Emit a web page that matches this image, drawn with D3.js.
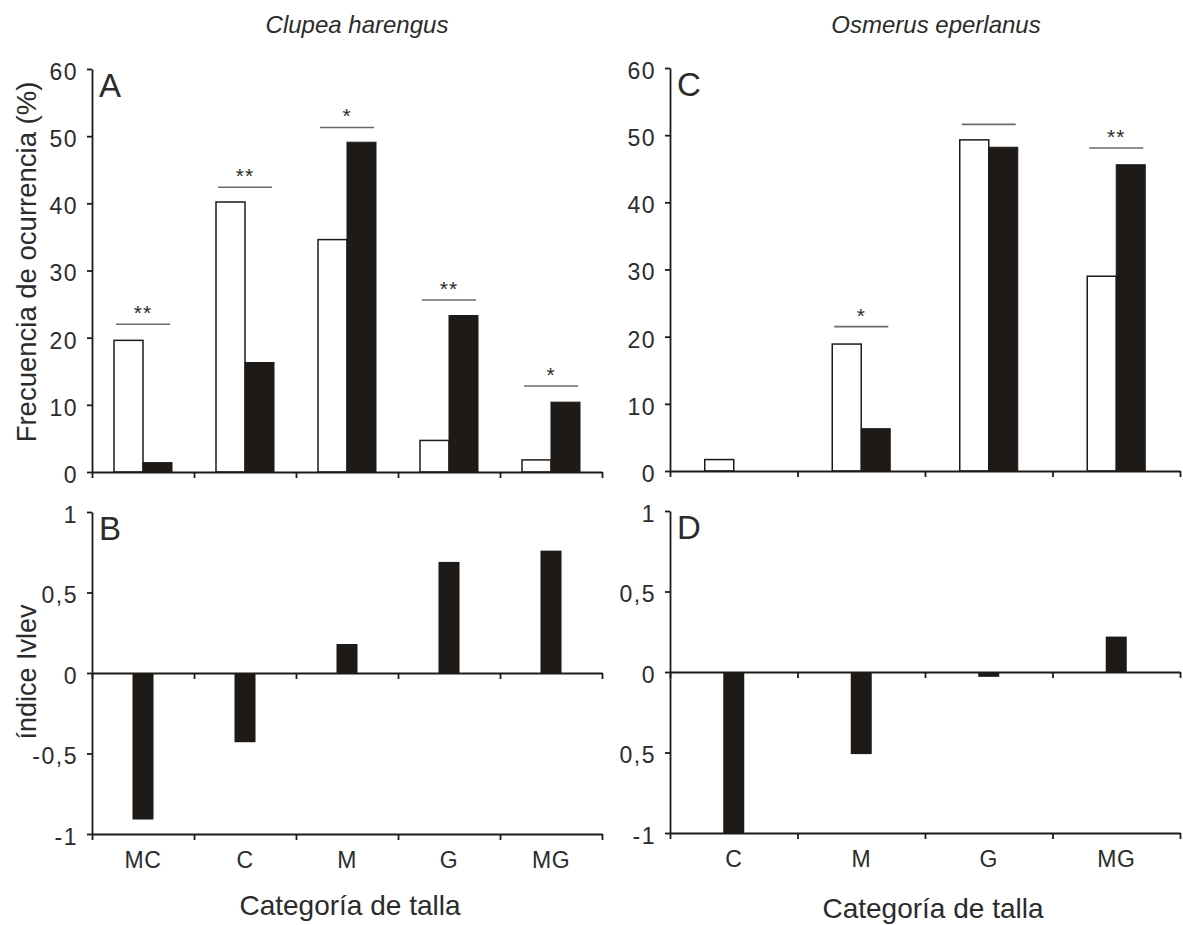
<!DOCTYPE html>
<html>
<head>
<meta charset="utf-8">
<script src="https://cdn.jsdelivr.net/npm/d3@7"></script>
<style>
  body { margin: 0; background: #fff; }
  text { font-family: "Liberation Sans", Arial, sans-serif; fill: #2b2b2b; }
</style>
</head>
<body>
<script>
// Data
var catsLeft = ["MC", "C", "M", "G", "MG"];
var freqLeftOpen = [19.6, 40.2, 34.6, 4.7, 1.8];
var freqLeftFilled = [1.4, 16.3, 49.1, 23.3, 10.4];
var sigLeftLevel = [22, 42.4, 51.3, 25.6, 12.8];
var sigLeftMark = ["**", "**", "*", "**", "*"];
var ivlevLeft = [-0.91, -0.43, 0.18, 0.69, 0.76];

var catsRight = ["C", "M", "G", "MG"];
var freqRightOpen = [1.7, 18.9, 49.3, 29.0];
var freqRightFilled = [0, 6.3, 48.2, 45.6];
var sigRightLevel = [null, 21.5, 51.6, 48.1];
var sigRightMark = ["", "*", "", "**"];
var ivlevRight = [-1.0, -0.51, -0.03, 0.22];

var freqTicks = [0, 10, 20, 30, 40, 50, 60];
var ivlevTicks = [-1, -0.5, 0, 0.5, 1];
var ivlevTickLabelsLeft = ["-1", "-0,5", "0", "0,5", "1"];
var ivlevTickLabelsRight = ["-1", "0,5", "0", "0,5", "1"];

// SVG area
var svgWidth = 1183;
var svgHeight = 925;
var ink = "#1e1a17";

var svg = d3.select("body")
  .append("svg")
  .attr("width", svgWidth)
  .attr("height", svgHeight);

// Panel frames (pixel extents of each plot area)
var panels = {
  A: { x0: 92, x1: 602, yTop: 69, yBot: 472 },
  B: { x0: 92, x1: 602, yTop: 512, yBot: 834 },
  C: { x0: 670, x1: 1180, yTop: 68, yBot: 471 },
  D: { x0: 670, x1: 1180, yTop: 511, yBot: 833 }
};

function styleAxis(g) {
  g.selectAll("path, line").attr("stroke", ink).attr("stroke-width", 1.8);
  g.selectAll("text").attr("fill", "#2b2b2b").attr("font-family", "Liberation Sans, Arial, sans-serif");
}

// Ticks at category boundaries along a horizontal line
function edgeAxis(p, n, yPos) {
  var xEdge = d3.scaleLinear().domain([0, n]).range([p.x0, p.x1]);
  var g = svg.append("g")
    .attr("transform", `translate(0, ${yPos})`)
    .call(d3.axisBottom(xEdge).tickValues(d3.range(n + 1)).tickFormat("").tickSize(6).tickSizeOuter(0));
  styleAxis(g);
}

function categoryLabels(p, xBand) {
  var g = svg.append("g")
    .attr("transform", `translate(0, ${p.yBot})`)
    .call(d3.axisBottom(xBand).tickSize(0).tickPadding(18));
  g.select(".domain").remove();
  g.selectAll("text").attr("font-size", 23).attr("fill", "#2b2b2b")
    .attr("font-family", "Liberation Sans, Arial, sans-serif").attr("letter-spacing", 0.5);
}

function yAxis(p, yScale, values, labels) {
  var g = svg.append("g")
    .attr("transform", `translate(${p.x0}, 0)`)
    .call(d3.axisLeft(yScale).tickValues(values)
      .tickFormat((d, i) => labels[i])
      .tickSize(5).tickSizeOuter(0).tickPadding(9));
  styleAxis(g);
  g.selectAll("text").attr("font-size", 23).attr("dy", "0.45em").attr("letter-spacing", 1.5);
}

function panelLetter(p, letter) {
  svg.append("text")
    .attr("x", p.x0 + 7)
    .attr("y", p.yTop + 28)
    .attr("font-size", 33)
    .text(letter);
}

// Frequency panel: open/filled paired bars plus significance lines
function freqPanel(p, cats, open, filled, sigLevel, sigMark, letter) {
  var xBand = d3.scaleBand().domain(cats).range([p.x0, p.x1]);
  var y = d3.scaleLinear().domain([0, 60]).range([p.yBot, p.yTop]);
  var barW = 29;
  var rows = cats.map((c, i) => ({ cat: c, open: open[i], filled: filled[i], lvl: sigLevel[i], mark: sigMark[i] }));

  var g = svg.append("g");

  g.selectAll(".open").data(rows.filter(d => d.open > 0)).enter()
    .append("rect")
    .attr("x", d => xBand(d.cat) + xBand.bandwidth() / 2 - barW)
    .attr("y", d => y(d.open))
    .attr("width", barW)
    .attr("height", d => y(0) - y(d.open))
    .attr("fill", "#fff")
    .attr("stroke", ink)
    .attr("stroke-width", 1.5);

  g.selectAll(".filled").data(rows.filter(d => d.filled > 0)).enter()
    .append("rect")
    .attr("x", d => xBand(d.cat) + xBand.bandwidth() / 2)
    .attr("y", d => y(d.filled))
    .attr("width", barW)
    .attr("height", d => y(0) - y(d.filled))
    .attr("fill", ink)
    .attr("stroke", ink)
    .attr("stroke-width", 1);

  var sig = rows.filter(d => d.lvl != null);
  g.selectAll(".sig").data(sig).enter()
    .append("line")
    .attr("x1", d => xBand(d.cat) + xBand.bandwidth() / 2 - 27)
    .attr("x2", d => xBand(d.cat) + xBand.bandwidth() / 2 + 27)
    .attr("y1", d => y(d.lvl))
    .attr("y2", d => y(d.lvl))
    .attr("stroke", "#6a6a6a")
    .attr("stroke-width", 1.6);

  g.selectAll(".star").data(sig.filter(d => d.mark)).enter()
    .append("text")
    .attr("x", d => xBand(d.cat) + xBand.bandwidth() / 2)
    .attr("y", d => y(d.lvl) - 4)
    .attr("text-anchor", "middle")
    .attr("font-size", 21)
    .attr("letter-spacing", 1)
    .text(d => d.mark);

  edgeAxis(p, cats.length, p.yBot);
  yAxis(p, y, freqTicks, freqTicks.map(String));
  panelLetter(p, letter);
}

// Ivlev panel: single bars around zero
function ivlevPanel(p, cats, vals, tickLabels, letter) {
  var xBand = d3.scaleBand().domain(cats).range([p.x0, p.x1]);
  var y = d3.scaleLinear().domain([-1, 1]).range([p.yBot, p.yTop]);
  var barW = 21;
  var rows = cats.map((c, i) => ({ cat: c, v: vals[i] }));

  svg.append("g").selectAll("rect").data(rows).enter()
    .append("rect")
    .attr("x", d => xBand(d.cat) + xBand.bandwidth() / 2 - barW / 2)
    .attr("y", d => y(Math.max(0, d.v)))
    .attr("width", barW)
    .attr("height", d => Math.abs(y(d.v) - y(0)))
    .attr("fill", ink);

  edgeAxis(p, cats.length, y(0));
  edgeAxis(p, cats.length, p.yBot);
  yAxis(p, y, ivlevTicks, tickLabels);
  categoryLabels(p, xBand);
  panelLetter(p, letter);
}

freqPanel(panels.A, catsLeft, freqLeftOpen, freqLeftFilled, sigLeftLevel, sigLeftMark, "A");
freqPanel(panels.C, catsRight, freqRightOpen, freqRightFilled, sigRightLevel, sigRightMark, "C");
ivlevPanel(panels.B, catsLeft, ivlevLeft, ivlevTickLabelsLeft, "B");
ivlevPanel(panels.D, catsRight, ivlevRight, ivlevTickLabelsRight, "D");

// Species titles
svg.append("text")
  .attr("x", 357).attr("y", 33)
  .attr("text-anchor", "middle")
  .attr("font-size", 24)
  .attr("font-style", "italic")
  .text("Clupea harengus");

svg.append("text")
  .attr("x", 936).attr("y", 33)
  .attr("text-anchor", "middle")
  .attr("font-size", 24)
  .attr("font-style", "italic")
  .text("Osmerus eperlanus");

// Axis titles
svg.append("text")
  .attr("transform", "translate(36, 262) rotate(-90)")
  .attr("text-anchor", "middle")
  .attr("font-size", 27.5)
  .text("Frecuencia de ocurrencia (%)");

svg.append("text")
  .attr("transform", "translate(36, 672) rotate(-90)")
  .attr("text-anchor", "middle")
  .attr("font-size", 27)
  .text("índice Ivlev");

svg.append("text")
  .attr("x", 350).attr("y", 915)
  .attr("text-anchor", "middle")
  .attr("font-size", 28)
  .text("Categoría de talla");

svg.append("text")
  .attr("x", 933).attr("y", 918)
  .attr("text-anchor", "middle")
  .attr("font-size", 28)
  .text("Categoría de talla");
</script>
</body>
</html>
